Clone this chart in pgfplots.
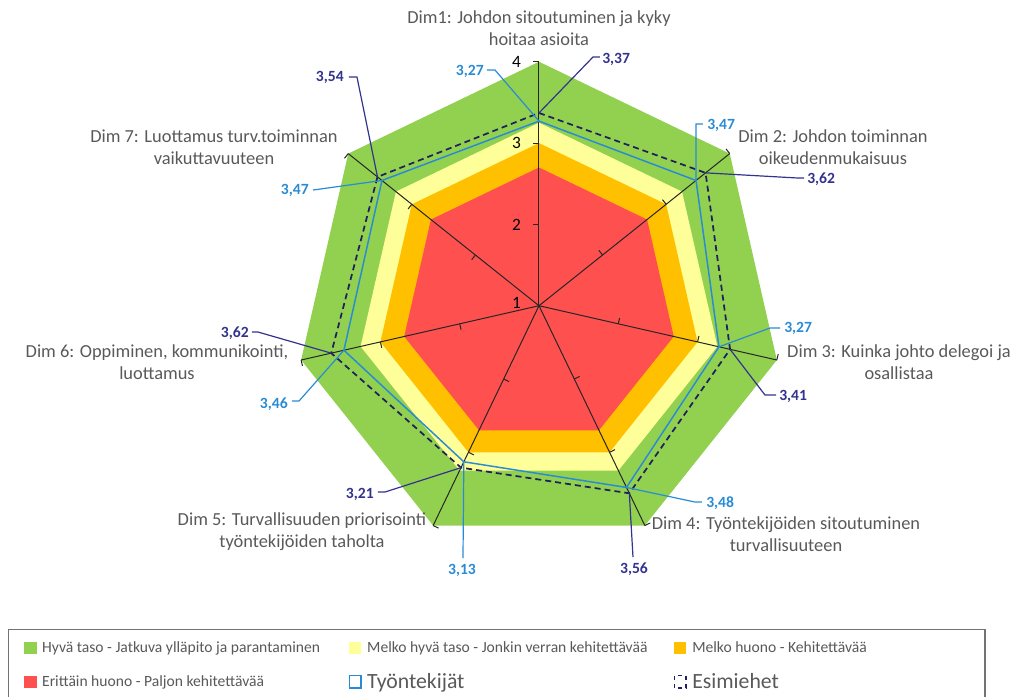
\documentclass[border=0pt]{standalone}
\usepackage{pgfplots}
\pgfplotsset{compat=1.18}
\usepackage{pgfplotstable}
\usepackage{fontspec}
\setmainfont{Carlito}

\definecolor{cgreen}{HTML}{92D050}
\definecolor{cyellow}{HTML}{FFFF99}
\definecolor{corange}{HTML}{FFC000}
\definecolor{cred}{HTML}{FF5050}
\definecolor{cemp}{HTML}{2A8BD5}
\definecolor{csup}{HTML}{33338F}
\definecolor{csupline}{HTML}{1F2060}
\definecolor{ctext}{HTML}{595959}

% a = direction of the dimension axis (Dim1 on top, then clockwise)
\pgfplotstableread{
a         emp   sup   good  fair  weak  bad
90        3.27  3.37  4     3.25  3     2.7
38.5714   3.47  3.62  4     3.25  3     2.7
-12.8571  3.27  3.41  4     3.25  3     2.7
-64.2857  3.48  3.56  4     3.25  3     2.7
-115.7143 3.13  3.21  4     3.25  3     2.7
-167.1429 3.46  3.62  4     3.25  3     2.7
141.4286  3.47  3.54  4     3.25  3     2.7
}\dims

% radial scale starts at 1 in the centre
\pgfplotsset{table/radar/.style={
  x expr={(\thisrow{#1}-1)*cos(\thisrow{a})},
  y expr={(\thisrow{#1}-1)*sin(\thisrow{a})}}}

% position given in pixels of the original picture
\newcommand{\px}[2]{(axis cs:{(#1-539)/81.33},{(305.7-#2)/81.33})}
% a value on a dimension axis
\newcommand{\val}[2]{(axis cs:{(#2-1)*cos(#1)},{(#2-1)*sin(#1)})}
% legend text, with a little gap after the swatch
\newcommand{\lt}[2][]{\hspace{2.25pt}\ifx&#1&#2\else\makebox[#1][l]{#2}\fi}

\tikzset{
  spoke/.style={draw=black!85, line width=0.75pt},
  dimlab/.style={align=center, text=ctext, font=\fontsize{13.8}{16.5}\selectfont, inner sep=0pt},
  vlab/.style={font=\fontsize{11.7}{14}\selectfont\bfseries, inner sep=0pt, text height=0.63em, text depth=0pt},
  lead/.style={line width=0.9pt},
}

\begin{document}
\begin{tikzpicture}
\begin{axis}[
  name=ax,
  x=61pt, y=61pt,
  xmin=-6.627, xmax=5.902,
  ymin=-4.799, ymax=3.759,
  hide axis, clip=false,
  no markers,
  legend columns=3,
  legend style={
    at={(axis cs:-6.529,-3.975)}, anchor=north west,
    draw=black!55, line width=1pt, fill=white,
    text=ctext,
    font=\fontsize{11.7}{14}\selectfont,
    inner xsep=11.5pt, inner ysep=7pt,
    row sep=10pt,
    cells={anchor=west},
  },
]
\addplot[fill=cgreen, draw=none,
  legend image code/.code={\fill[cgreen] (0pt,-4.6pt) rectangle (9.4pt,4.6pt);}]
  table[radar=good]{\dims};
\addlegendentry{\lt[227.8pt]{Hyvä taso - Jatkuva ylläpito ja parantaminen}}
\addplot[fill=cyellow, draw=none,
  legend image code/.code={\fill[cyellow] (0pt,-4.6pt) rectangle (9.4pt,4.6pt);}]
  table[radar=fair]{\dims};
\addlegendentry{\lt[227.8pt]{Melko hyvä taso - Jonkin verran kehitettävää}}
\addplot[fill=corange, draw=none,
  legend image code/.code={\fill[corange] (0pt,-4.6pt) rectangle (9.4pt,4.6pt);}]
  table[radar=weak]{\dims};
\addlegendentry{\lt[206pt]{Melko huono - Kehitettävää}}
\addplot[fill=cred, draw=none,
  legend image code/.code={\fill[cred] (0pt,-4.6pt) rectangle (9.4pt,4.6pt);}]
  table[radar=bad]{\dims};
\addlegendentry{\lt{Erittäin huono - Paljon kehitettävää}}

% dimension axes with ticks at 2, 3, 4
\pgfplotsinvokeforeach{90,38.5714,-12.8571,-64.2857,-115.7143,-167.1429,141.4286}{
  \draw[spoke] (axis cs:0,0) -- (axis cs:{3*cos(#1)},{3*sin(#1)});
  \draw[spoke] (axis cs:{cos(#1)},{sin(#1)}) -- ++(#1+90:4.5pt);
  \draw[spoke] (axis cs:{2*cos(#1)},{2*sin(#1)}) -- ++(#1+90:4.5pt);
  \draw[spoke] (axis cs:{3*cos(#1)},{3*sin(#1)}) -- ++(#1+90:4.5pt);
}

\addplot[cemp, line width=1.1pt,
  legend image code/.code={\draw[cemp, line width=1.1pt] (0.55pt,-4.6pt) rectangle (9.2pt,4.6pt);}]
  table[radar=emp]{\dims} -- cycle;
\addlegendentry{\lt{\fontsize{16.3}{18}\selectfont Työntekijät}}
\addplot[csupline, line width=1.3pt, dash pattern=on 4.5pt off 3pt,
  legend image code/.code={\draw[csupline, line width=1.3pt, dash pattern=on 3pt off 3pt] (0.65pt,-4.6pt) rectangle (9.1pt,4.6pt);}]
  table[radar=sup]{\dims} -- cycle;
\addlegendentry{\lt{\fontsize{16.3}{18}\selectfont Esimiehet}}

% scale numbers on the top axis
\path (axis cs:-0.22,3) node[anchor=east, inner sep=0pt, font=\fontsize{13}{15}\selectfont] {4};
\path (axis cs:-0.22,2) node[anchor=east, inner sep=0pt, font=\fontsize{13}{15}\selectfont] {3};
\path (axis cs:-0.22,1) node[anchor=east, inner sep=0pt, font=\fontsize{13}{15}\selectfont] {2};
\path (axis cs:-0.22,0.04) node[anchor=east, inner sep=0pt, font=\fontsize{13}{15}\selectfont] {1};

% dimension names
\path \px{539}{28} node[dimlab] {Dim1: Johdon sitoutuminen ja kyky\\hoitaa asioita};
\path \px{833}{147} node[dimlab] {Dim 2: Johdon toiminnan\\oikeudenmukaisuus};
\path \px{899}{362} node[dimlab] {Dim 3: Kuinka johto delegoi ja\\osallistaa};
\path \px{786}{534} node[dimlab] {Dim 4: Työntekijöiden sitoutuminen\\turvallisuuteen};
\path \px{302}{532} node[dimlab] {Dim 5: Turvallisuuden priorisointi\\työntekijöiden taholta};
\path \px{157}{362} node[dimlab] {Dim 6: Oppiminen, kommunikointi,\\luottamus};
\path \px{214}{147} node[dimlab] {Dim 7: Luottamus turv.toiminnan\\vaikuttavuuteen};

% value labels, Työntekijät
\draw[cemp, lead] \val{90}{3.27} -- \px{495}{70} -- \px{487}{70};
\path \px{484}{71} node[vlab, text=cemp, anchor=east] {3,27};
\draw[cemp, lead] \val{38.5714}{3.47} -- \px{696}{124} -- \px{703}{124};
\path \px{707}{125} node[vlab, text=cemp, anchor=west] {3,47};
\draw[cemp, lead] \val{-12.8571}{3.27} -- \px{770}{328} -- \px{780}{328};
\path \px{784}{328} node[vlab, text=cemp, anchor=west] {3,27};
\draw[cemp, lead] \val{-64.2857}{3.48} -- \px{695}{502} -- \px{702}{502};
\path \px{706}{503} node[vlab, text=cemp, anchor=west] {3,48};
\draw[cemp, lead] \val{-115.7143}{3.13} -- \px{463}{558};
\path \px{462}{566} node[vlab, text=cemp, anchor=north] {3,13};
\draw[cemp, lead] \val{-167.1429}{3.46} -- \px{299}{401} -- \px{292}{401};
\path \px{288}{404} node[vlab, text=cemp, anchor=east] {3,46};
\draw[cemp, lead] \val{141.4286}{3.47} -- \px{313}{190};
\path \px{309}{190} node[vlab, text=cemp, anchor=east] {3,47};

% value labels, Esimiehet
\draw[csup, lead] \val{90}{3.37} -- \px{593}{57} -- \px{600}{57};
\path \px{602}{59} node[vlab, text=csup, anchor=west] {3,37};
\draw[csup, lead] \val{38.5714}{3.62} -- \px{798}{178} -- \px{804}{178};
\path \px{807}{179} node[vlab, text=csup, anchor=west] {3,62};
\draw[csup, lead] \val{-12.8571}{3.41} -- \px{765}{395} -- \px{776}{395};
\path \px{779}{396} node[vlab, text=csup, anchor=west] {3,41};
\draw[csup, lead] \val{-64.2857}{3.56} -- \px{633}{557};
\path \px{634}{565} node[vlab, text=csup, anchor=north] {3,56};
\draw[csup, lead] \val{-115.7143}{3.21} -- \px{385}{492} -- \px{378}{492};
\path \px{374}{494} node[vlab, text=csup, anchor=east] {3,21};
\draw[csup, lead] \val{-167.1429}{3.62} -- \px{258}{332} -- \px{252}{332};
\path \px{249}{333} node[vlab, text=csup, anchor=east] {3,62};
\draw[csup, lead] \val{141.4286}{3.54} -- \px{357}{77} -- \px{349}{77};
\path \px{344}{77} node[vlab, text=csup, anchor=east] {3,54};
\end{axis}
\pgfresetboundingbox
\path (ax.south west) rectangle (ax.north east);
\end{tikzpicture}
\end{document}
